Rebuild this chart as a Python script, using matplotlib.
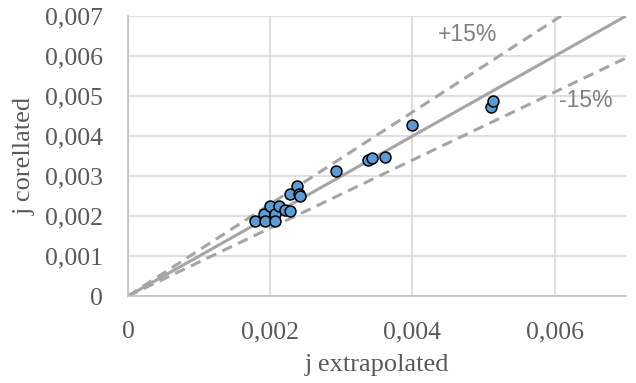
import matplotlib
matplotlib.use("Agg")
import matplotlib.pyplot as plt
from matplotlib.ticker import FuncFormatter

# Measured current densities
j_extrapolated = [0.00179, 0.00191, 0.00192, 0.00200, 0.00206, 0.00207, 0.00213,
                  0.00221, 0.00228, 0.00228, 0.00238, 0.00240, 0.00242,
                  0.00292, 0.00338, 0.00343, 0.00361, 0.00399, 0.00511, 0.00513]
j_corellated = [0.00188, 0.00204, 0.00187, 0.00226, 0.00204, 0.00187, 0.00224,
                0.00216, 0.00212, 0.00254, 0.00276, 0.00254, 0.00251,
                0.00312, 0.00339, 0.00346, 0.00348, 0.00427, 0.00472, 0.00488]

# Reference lines: perfect agreement and +/-15 % bands
line_x = [0.0, 0.007]
band_factors = {"+15%": 1.15, "-15%": 0.85}

x_ticks = [0, 0.002, 0.004, 0.006]
y_ticks = [0, 0.001, 0.002, 0.003, 0.004, 0.005, 0.006, 0.007]

fig = plt.figure(figsize=(6.36, 3.83), dpi=100)
ax = fig.add_axes([0.2013, 0.227, 0.7827, 0.731])

grey = "#A5A5A5"
ax.plot(line_x, line_x, color=grey, lw=2.2, solid_capstyle="butt", zorder=2)
for f in band_factors.values():
    ax.plot(line_x, [v * f for v in line_x], color=grey, lw=2.2,
            linestyle=(0, (3.5, 2.2)), zorder=2)

ax.scatter(j_extrapolated, j_corellated, s=62, color="#5B9BD5",
           edgecolor="black", linewidth=1.1, zorder=3)

ax.text(0.00477, 0.00655, "+15%", fontsize=16.5, color="#7F7F7F",
        family="Liberation Sans", ha="center", va="center")
ax.text(0.00644, 0.0049, "-15%", fontsize=16.5, color="#7F7F7F",
        family="Liberation Sans", ha="center", va="center")

ax.set_xlim(0, 0.007)
ax.set_ylim(0, 0.007)
ax.set_xticks(x_ticks)
ax.set_yticks(y_ticks)

fmt = FuncFormatter(lambda v, p: "0" if abs(v) < 1e-12 else f"{v:.3f}".replace(".", ","))
ax.xaxis.set_major_formatter(fmt)
ax.yaxis.set_major_formatter(fmt)

for lab in ax.get_xticklabels() + ax.get_yticklabels():
    lab.set_family("Liberation Serif")
    lab.set_fontsize(18.5)
    lab.set_color("#595959")
ax.tick_params(axis="both", length=0)
ax.tick_params(axis="y", pad=18)
ax.tick_params(axis="x", pad=18)

ax.grid(True, color="#D9D9D9", lw=1.2)
ax.set_axisbelow(True)
for s in ("top", "right"):
    ax.spines[s].set_visible(False)
for s in ("left", "bottom"):
    ax.spines[s].set_color("#BFBFBF")
    ax.spines[s].set_linewidth(1.2)

ax.set_xlabel("j extrapolated", family="Liberation Serif", fontsize=19,
              color="#595959", labelpad=8)
ax.set_ylabel("j corellated", family="Liberation Serif", fontsize=19,
              color="#595959", labelpad=7)

fig.savefig("out.png", dpi=100)
